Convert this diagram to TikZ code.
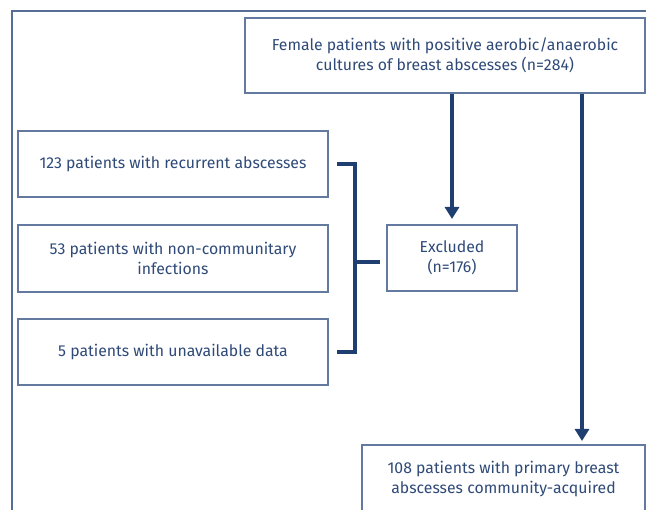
\documentclass[tikz,border=0pt]{standalone}
\usepackage{fontspec}
\setmainfont{Fira Sans}
\usetikzlibrary{arrows.meta}
\definecolor{navy}{HTML}{1E3F6F}
\definecolor{boxline}{HTML}{6479A0}
\definecolor{txt}{HTML}{2F4A78}
\begin{document}
\begin{tikzpicture}[x=1pt,y=-1pt,
  box/.style={draw=boxline,line width=1.3pt,fill=white,align=center,text=txt,font=\fontsize{15.8}{20}\selectfont,inner sep=0pt},
  thick line/.style={draw=navy,line width=4pt},
  arr/.style={thick line,-{Triangle[width=14pt,length=12pt]}}]
\useasboundingbox (0,0) rectangle (646,510);
% outer frame
\draw[draw=boxline!80!navy,line width=1.5pt] (12,515) -- (12,11) -- (650,11);
% boxes
\node[box,minimum width=400pt,minimum height=75pt] (top) at (445,55.5) {Female patients with positive aerobic/anaerobic\\cultures of breast abscesses (n=284)};
\node[box,minimum width=310pt,minimum height=66pt] (b1) at (173,164) {123 patients with recurrent abscesses};
\node[box,minimum width=310pt,minimum height=67pt] (b2) at (173,258.5) {53 patients with non-communitary\\infections};
\node[box,minimum width=310pt,minimum height=66pt] (b3) at (173,352) {5 patients with unavailable data};
\node[box,minimum width=130pt,minimum height=66pt] (ex) at (452,258) {Excluded\\(n=176)};
\node[box,minimum width=283pt,minimum height=80pt] (bot) at (503.5,485) {};
\node[text=txt,font=\fontsize{15.8}{20}\selectfont,align=center] (bottxt) at (503.5,479) {108 patients with primary breast\\abscesses community-acquired};
% bracket
\coordinate (bt) at (337,164);
\coordinate (bb) at (337,352);
\coordinate (bm) at (355,262);
\coordinate (be) at (380,262);
\draw[thick line] (bt) -- (355,164) -- (355,352) -- (bb);
\draw[thick line] (bm) -- (be);
% arrows
\draw[arr] (top.south -| 452,0) -- (452,219);
\draw[arr] (top.south -| 582,0) -- (582,441);
\end{tikzpicture}
\end{document}
